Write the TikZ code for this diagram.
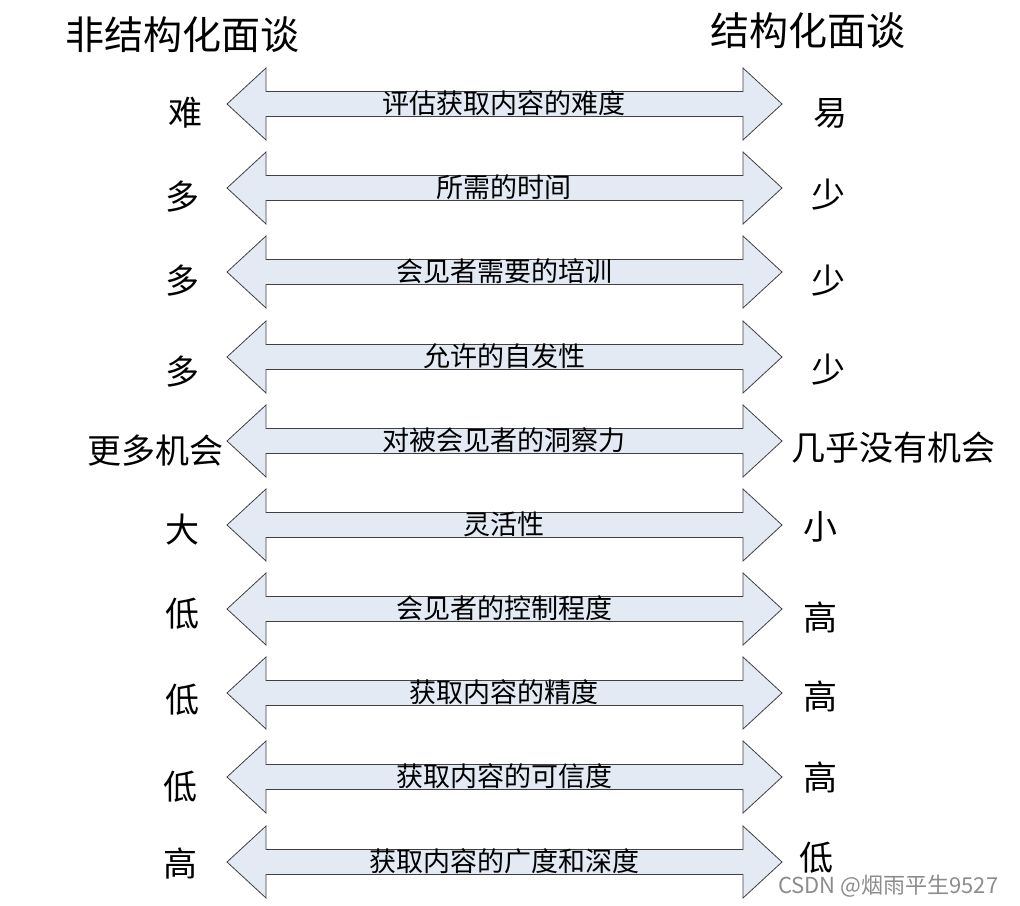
\documentclass[tikz,border=0pt]{standalone}
\usepackage{fontspec}
\setmainfont{Noto Sans CJK SC}
\usetikzlibrary{positioning}
\definecolor{arrowfill}{HTML}{E4EAF4}
\definecolor{arrowline}{HTML}{404040}

\begin{document}
\begin{tikzpicture}[x=1pt,y=-1pt,
  dblarrow/.style={draw=arrowline,fill=arrowfill,line width=0.8pt,line join=miter},
  midtxt/.style={font=\fontsize{27}{27}\selectfont,inner sep=0pt},
  sidetxt/.style={font=\fontsize{34}{34}\selectfont,inner sep=0pt},
  titletxt/.style={font=\fontsize{39}{39}\selectfont,inner sep=0pt}]
  \useasboundingbox (0,0) rectangle (1020,905);

  % column titles
  \node[titletxt] (unstruct) at (182,35) {非结构化面谈};
  \node[titletxt] (struct) at (808,31) {结构化面谈};

  % one double arrow per criterion
  \foreach \yc/\lt/\mt/\rt/\lx/\ly/\rx/\ry [count=\n] in {
      104/难/评估获取内容的难度/易/185/113/830/113,
      188/多/所需的时间/少/182/197/828/195,
      272/多/会见者需要的培训/少/182/281/828/281,
      357/多/允许的自发性/少/182/372/828/370,
      441/更多机会/对被会见者的洞察力/几乎没有机会/155/451/893/448,
      525/大/灵活性/小/182/530/820/527,
      609/低/会见者的控制程度/高/182/614/820/618,
      693/低/获取内容的精度/高/182/700/820/697,
      777/低/获取内容的可信度/高/180/787/820/778,
      862/高/获取内容的广度和深度/低/180/864/816/858} {
    \draw[dblarrow] (227,\yc) -- (266,{\yc-36}) -- (266,{\yc-12.5})
      -- (743,{\yc-12.5}) -- (743,{\yc-36}) -- (782,\yc)
      -- (743,{\yc+36}) -- (743,{\yc+12.5}) -- (266,{\yc+12.5})
      -- (266,{\yc+36}) -- cycle;
    \node[midtxt] (m\n) at (504,{\yc-1}) {\mt};
    \node[sidetxt] (l\n) at (\lx,\ly) {\lt};
    \node[sidetxt] (r\n) at (\rx,\ry) {\rt};
  }

  \node[anchor=west,inner sep=0pt,text=black!45,font=\fontsize{22}{22}\selectfont]
    (mark) at (778,886) {CSDN @烟雨平生9527};
\end{tikzpicture}
\end{document}
